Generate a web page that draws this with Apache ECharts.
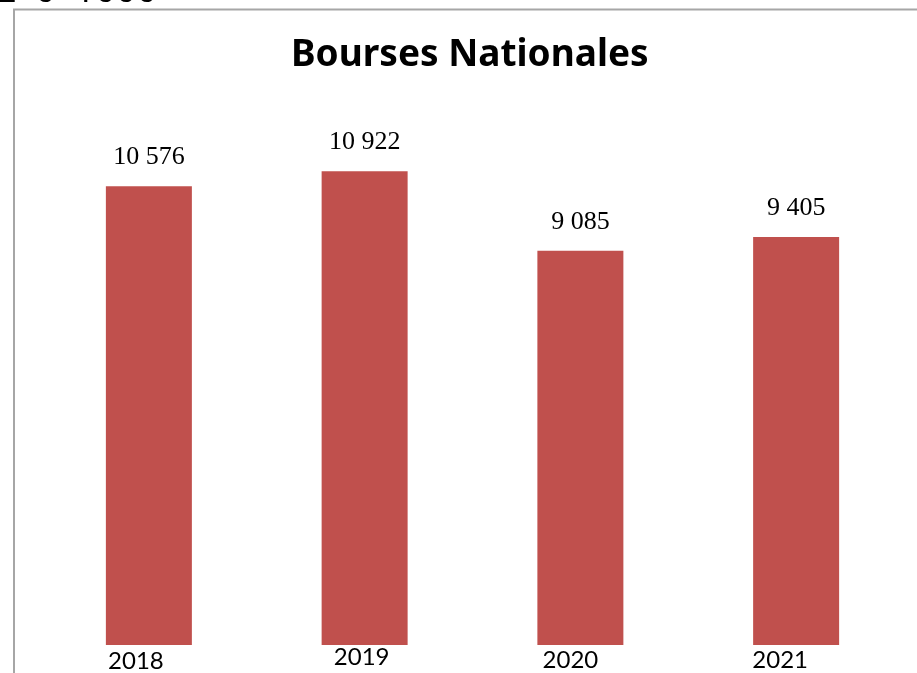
<!DOCTYPE html>
<html>
<head>
<meta charset="utf-8">
<script src="https://cdn.jsdelivr.net/npm/echarts@6/dist/echarts.min.js"></script>
<style>
  html, body { margin: 0; padding: 0; background: #fff; }
  #main { width: 917px; height: 673px; }
</style>
</head>
<body>
<div id="main"></div>
<script>
// données
var years = ['2018', '2019', '2020', '2021'];
var bourses = [10576, 10922, 9085, 9405];

// petits décalages des étiquettes d'années (comme dans l'original)
var yearPad = [[4, 26, 0, 0], [0, 6, 0, 0], [3, 20, 0, 0], [3, 32, 0, 0]];

function fmt(v) {
    return String(v).replace(/\B(?=(\d{3})+(?!\d))/g, ' ');
}

var myChart = echarts.init(document.getElementById('main'));
var option = {
    backgroundColor: '#fff',
    animation: false,
    title: {
        text: 'Bourses Nationales',
        left: 286,
        top: 32,
        textStyle: {
            fontFamily: 'Noto Sans',
            fontWeight: 'bold',
            fontSize: 37,
            color: '#000'
        }
    },
    graphic: [
        {
            type: 'rect',
            shape: {x: 14, y: 9.5, width: 1000, height: 700},
            style: {fill: 'none', stroke: '#a6a6a6', lineWidth: 2},
            silent: true
        },
        {
            type: 'text',
            left: -4,
            top: -26,
            style: {
                text: '2  0  1000',
                fontFamily: 'Noto Sans',
                fontSize: 36,
                fill: '#000'
            },
            silent: true
        }
    ],
    grid: {left: 41, right: 13, top: 124.4, bottom: 28},
    xAxis: {
        type: 'category',
        data: years.map(function (y, i) {
            return {value: y, textStyle: {padding: yearPad[i]}};
        }),
        axisLine: {show: false},
        axisTick: {show: false},
        axisLabel: {
            margin: 0,
            fontFamily: 'Lato',
            fontSize: 24,
            color: '#000'
        }
    },
    yAxis: {
        type: 'value',
        min: 0,
        max: 12000,
        show: false,
        splitLine: {show: false}
    },
    series: [{
        type: 'bar',
        data: bourses,
        barWidth: 86,
        itemStyle: {color: '#C0504D'},
        label: {
            show: true,
            position: 'top',
            distance: 16,
            formatter: function (p) { return fmt(p.value); },
            fontFamily: 'Liberation Serif',
            fontSize: 26,
            color: '#000'
        }
    }]
};
myChart.setOption(option);
</script>
</body>
</html>
